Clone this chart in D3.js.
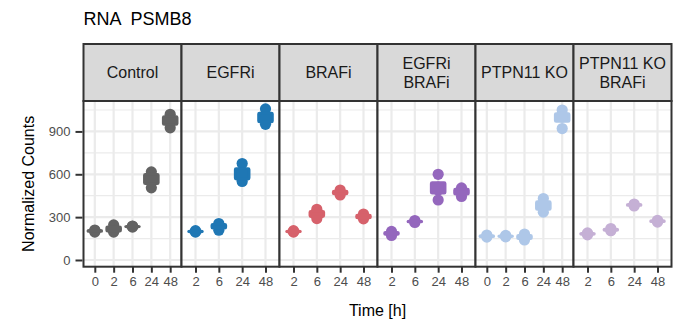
<!DOCTYPE html>
<html>
<head>
<meta charset="utf-8">
<script src="https://cdn.jsdelivr.net/npm/d3@7"></script>
<style>
  html, body { margin: 0; padding: 0; background: #fff; }
  svg { display: block; font-family: "Liberation Sans", Arial, Helvetica, sans-serif; }
</style>
</head>
<body>
<svg id="chart" width="673" height="322"></svg>
<script>
// Facet panels (conditions), their time points and colours
const panelNames = ["Control", "EGFRi", "BRAFi", "EGFRi\nBRAFi", "PTPN11 KO", "PTPN11 KO\nBRAFi"];
const panelTimes = [
  ["0", "2", "6", "24", "48"],
  ["2", "6", "24", "48"],
  ["2", "6", "24", "48"],
  ["2", "6", "24", "48"],
  ["0", "2", "6", "24", "48"],
  ["2", "6", "24", "48"]
];
const panelColors = ["#636363", "#1f77b4", "#d6616b", "#9467bd", "#aec7e8", "#c5b0d5"];

// Normalized counts of the replicates, one list per time point
const controlCounts   = [[195, 205, 210], [246, 210, 195], [230, 235, 238], [617, 578, 505], [1020, 985, 925]];
const egfriCounts     = [[195, 200, 205], [255, 245, 208], [675, 585, 550], [1058, 985, 950]];
const brafiCounts     = [[195, 200, 205], [355, 322, 290], [490, 472, 455], [322, 302, 288]];
const egfriBrafiCounts = [[200, 186, 172], [276, 270, 263], [600, 510, 490, 420], [505, 485, 445]];
const ptpn11Counts    = [[175, 166, 160], [172, 166, 162], [182, 160, 140], [430, 378, 335], [1050, 1020, 1000, 920]];
const ptpn11BrafiCounts = [[190, 183, 176], [220, 211, 205], [392, 385, 378], [278, 272, 265]];
const panelCounts = [controlCounts, egfriCounts, brafiCounts, egfriBrafiCounts, ptpn11Counts, ptpn11BrafiCounts];

// Axis ticks
const yMajorTicks = [0, 300, 600, 900];
const yMinorTicks = [150, 450, 750, 1050];

const titleText = "RNA  PSMB8";
const yTitle = "Normalized Counts";
const xTitle = "Time [h]";

// Layout
const plotLeft = 83.5, plotRight = 671.5;
const stripTop = 44, stripBottom = 101, panelBottom = 266.7;
const panelW = (plotRight - plotLeft) / panelNames.length;
const border = "#333333";
const gridCol = "#ebebeb";
const textCol = "#4d4d4d";

const svg = d3.select("#chart");

const y = d3.scaleLinear().domain([-47, 1113]).range([panelBottom, stripBottom]);

// Title
svg.append("text")
  .attr("x", plotLeft).attr("y", 25)
  .attr("font-size", 18).attr("fill", "#000")
  .attr("xml:space", "preserve")
  .text(titleText);

panelNames.forEach((name, i) => {
  const x0 = plotLeft + i * panelW;
  const g = svg.append("g").attr("transform", `translate(${x0},0)`);
  const x = d3.scalePoint().domain(panelTimes[i]).range([0, panelW]).padding(0.6);
  const color = panelColors[i];

  // panel background
  g.append("rect").attr("x", 0).attr("y", stripBottom).attr("width", panelW)
    .attr("height", panelBottom - stripBottom).attr("fill", "#fff");

  // grid
  g.selectAll(".ymin").data(yMinorTicks).join("line")
    .attr("x1", 0).attr("x2", panelW)
    .attr("y1", d => y(d)).attr("y2", d => y(d))
    .attr("stroke", gridCol).attr("stroke-width", 1.2);
  g.selectAll(".ymaj").data(yMajorTicks).join("line")
    .attr("x1", 0).attr("x2", panelW)
    .attr("y1", d => y(d)).attr("y2", d => y(d))
    .attr("stroke", gridCol).attr("stroke-width", 2.2);
  g.selectAll(".xmaj").data(panelTimes[i]).join("line")
    .attr("x1", d => x(d)).attr("x2", d => x(d))
    .attr("y1", stripBottom).attr("y2", panelBottom)
    .attr("stroke", gridCol).attr("stroke-width", 2.2);

  // replicate points
  const counts = panelCounts[i];
  panelTimes[i].forEach((t, j) => {
    const vals = counts[j];
    g.selectAll(null).data(vals).join("circle")
      .attr("cx", x(t)).attr("cy", d => y(d)).attr("r", 5.6)
      .attr("fill", color);
    // mean ± standard error crossbar
    const m = d3.mean(vals);
    const se = d3.deviation(vals) / Math.sqrt(vals.length);
    g.append("rect")
      .attr("x", x(t) - 7).attr("width", 14)
      .attr("y", y(m + se)).attr("height", y(m - se) - y(m + se))
      .attr("rx", 1).attr("ry", 1)
      .attr("fill", color).attr("stroke", color).attr("stroke-width", 2.6)
      .attr("stroke-linejoin", "round");
  });

  // panel border
  g.append("rect").attr("x", 0).attr("y", stripBottom).attr("width", panelW)
    .attr("height", panelBottom - stripBottom)
    .attr("fill", "none").attr("stroke", border).attr("stroke-width", 2);

  // strip
  g.append("rect").attr("x", 0).attr("y", stripTop).attr("width", panelW)
    .attr("height", stripBottom - stripTop)
    .attr("fill", "#d9d9d9").attr("stroke", border).attr("stroke-width", 2);
  const lines = name.split("\n");
  const midY = (stripTop + stripBottom) / 2;
  const lh = 18.4;
  lines.forEach((ln, k) => {
    g.append("text")
      .attr("x", panelW / 2)
      .attr("y", midY + (k - (lines.length - 1) / 2) * lh + 5.8)
      .attr("text-anchor", "middle").attr("font-size", 16).attr("fill", "#1a1a1a")
      .text(ln);
  });

  // x axis
  const xa = g.append("g").attr("transform", `translate(0,${panelBottom})`)
    .call(d3.axisBottom(x).tickSize(6).tickPadding(4));
  xa.select(".domain").remove();
  xa.selectAll(".tick line").attr("stroke", border).attr("stroke-width", 2);
  xa.selectAll(".tick text").attr("font-size", 13).attr("fill", textCol)
    .attr("font-family", "Liberation Sans, Arial, sans-serif");
});

// y axis
const ya = svg.append("g").attr("transform", `translate(${plotLeft - 1},0)`)
  .call(d3.axisLeft(y).tickValues(yMajorTicks).tickSize(7).tickPadding(5));
ya.select(".domain").remove();
ya.selectAll(".tick line").attr("stroke", border).attr("stroke-width", 2);
ya.selectAll(".tick text").attr("font-size", 13).attr("fill", textCol)
  .attr("font-family", "Liberation Sans, Arial, sans-serif");

// axis titles
svg.append("text")
  .attr("transform", `translate(33.5,${(stripBottom + panelBottom) / 2}) rotate(-90)`)
  .attr("text-anchor", "middle").attr("font-size", 16).attr("fill", "#000")
  .text(yTitle);
svg.append("text")
  .attr("x", (plotLeft + plotRight) / 2).attr("y", 316)
  .attr("text-anchor", "middle").attr("font-size", 16).attr("fill", "#000")
  .text(xTitle);
</script>
</body>
</html>
